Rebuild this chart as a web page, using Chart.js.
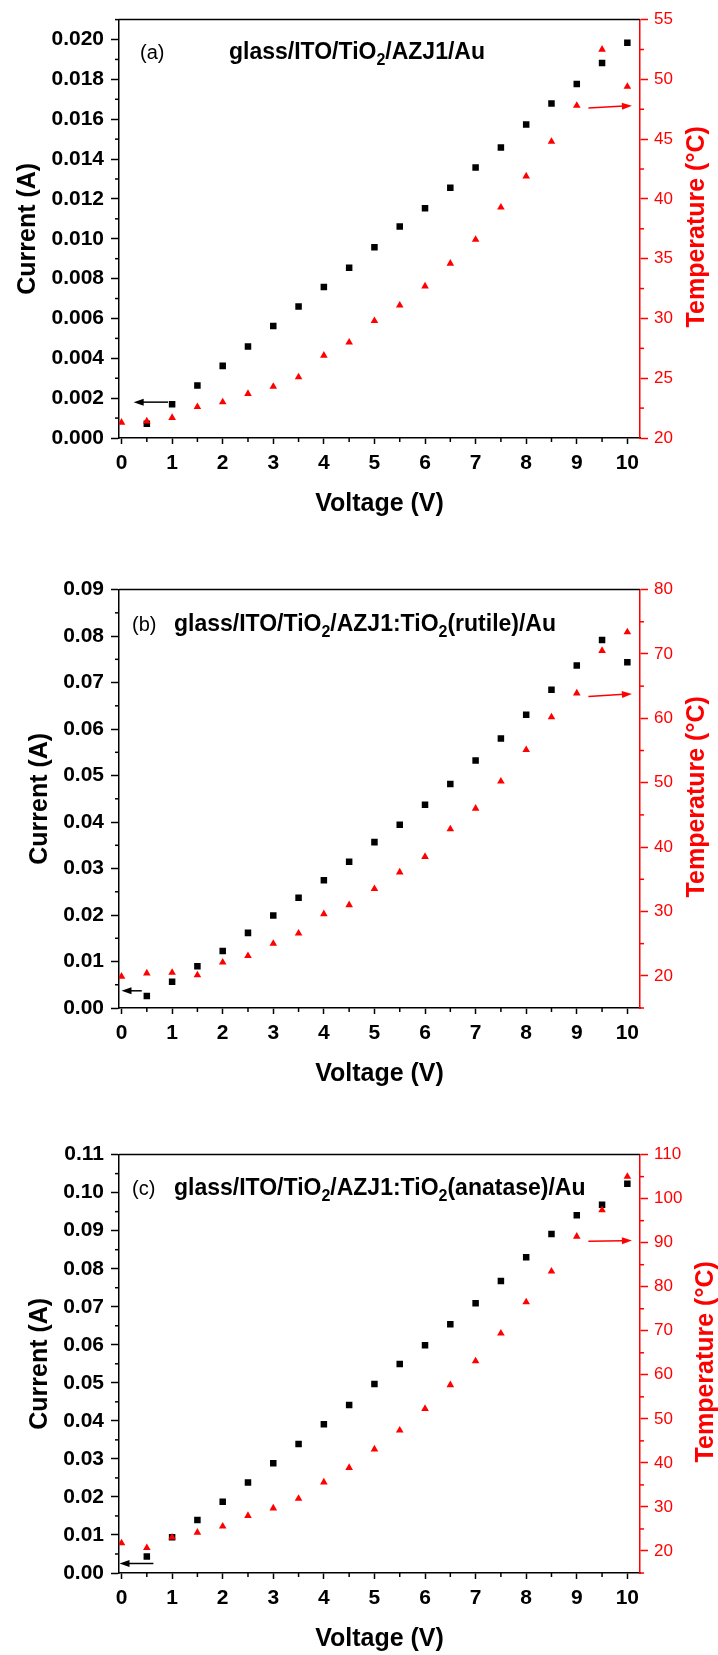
<!DOCTYPE html>
<html>
<head>
<meta charset="utf-8">
<script src="https://cdn.jsdelivr.net/npm/chart.js@4.4.1/dist/chart.umd.min.js"></script>
<style>
  html, body { margin: 0; padding: 0; background: #fff; }
  body { width: 718px; height: 1655px; position: relative; overflow: hidden; }
  canvas { position: absolute; left: 0; width: 718px; height: 555px; }
</style>
</head>
<body>
<canvas id="chartA" width="718" height="555" style="top:0px"></canvas>
<canvas id="chartB" width="718" height="555" style="top:570px"></canvas>
<canvas id="chartC" width="718" height="555" style="top:1135px"></canvas>
<script>
// Voltage steps (V)
const voltage = [0, 0.5, 1, 1.5, 2, 2.5, 3, 3.5, 4, 4.5, 5, 5.5, 6, 6.5, 7, 7.5, 8, 8.5, 9, 9.5, 10];
const voltageCurrent = [0.5, 1, 1.5, 2, 2.5, 3, 3.5, 4, 4.5, 5, 5.5, 6, 6.5, 7, 7.5, 8, 8.5, 9, 9.5, 10];

// (a) glass/ITO/TiO2/AZJ1/Au
const currentA = [0.00071, 0.00169, 0.00264, 0.00362, 0.00459, 0.00562, 0.00660, 0.00758, 0.00855, 0.00958,
  0.01062, 0.01153, 0.01256, 0.01358, 0.01458, 0.01574, 0.01679, 0.01777, 0.01882, 0.01984];
const tempA = [21.3, 21.4, 21.7, 22.6, 23.0, 23.7, 24.3, 25.1, 26.9, 28.0, 29.8, 31.1, 32.7, 34.6, 36.6,
  39.3, 41.9, 44.8, 47.8, 52.5, 49.4];

// (b) rutile
const currentB = [0.0026, 0.00567, 0.00896, 0.01225, 0.01616, 0.01991, 0.02374, 0.02749, 0.03147, 0.03568,
  0.03943, 0.04372, 0.04816, 0.05322, 0.05796, 0.06309, 0.06845, 0.07366, 0.07917, 0.07435];
const tempB = [19.9, 20.4, 20.5, 20.1, 22.1, 23.1, 25.0, 26.6, 29.6, 31.0, 33.5, 36.1, 38.5, 42.8, 46.0,
  50.2, 55.1, 60.2, 63.9, 70.5, 73.4];

// (c) anatase
const currentC = [0.00436, 0.00938, 0.01393, 0.01876, 0.02377, 0.02888, 0.03389, 0.03909, 0.0442, 0.04967,
  0.05497, 0.05989, 0.06537, 0.07094, 0.07679, 0.08301, 0.08914, 0.09406, 0.09684, 0.10232];
const tempC = [21.8, 20.7, 23.1, 24.2, 25.6, 28.0, 29.7, 31.9, 35.6, 38.9, 43.1, 47.4, 52.3, 57.7, 63.1,
  69.4, 76.5, 83.5, 91.4, 97.4, 105.0];

// tick labels
const xTicks = [0, 1, 2, 3, 4, 5, 6, 7, 8, 9, 10];
const currentTicksA = [0, 0.002, 0.004, 0.006, 0.008, 0.010, 0.012, 0.014, 0.016, 0.018, 0.020];
const currentTicksB = [0, 0.01, 0.02, 0.03, 0.04, 0.05, 0.06, 0.07, 0.08, 0.09];
const currentTicksC = [0, 0.01, 0.02, 0.03, 0.04, 0.05, 0.06, 0.07, 0.08, 0.09, 0.10, 0.11];
const tempTicksA = [20, 25, 30, 35, 40, 45, 50, 55];
const tempTicksB = [20, 30, 40, 50, 60, 70, 80];
const tempTicksC = [20, 30, 40, 50, 60, 70, 80, 90, 100, 110];

// axis limits
const currentRange = [[0, 0.021], [0, 0.09], [0, 0.11]];
const tempRange = [[20, 55], [15, 80], [15, 110]];
const currentDecimals = [3, 2, 2];

// panel headings
const panelLabels = ['(a)', '(b)', '(c)'];
const panelTitles = [
  [['glass/ITO/TiO', false], ['2', true], ['/AZJ1/Au', false]],
  [['glass/ITO/TiO', false], ['2', true], ['/AZJ1:TiO', false], ['2', true], ['(rutile)/Au', false]],
  [['glass/ITO/TiO', false], ['2', true], ['/AZJ1:TiO', false], ['2', true], ['(anatase)/Au', false]]
];

// arrows showing which axis each series belongs to: [x0, y0, x1, y1] in data units
const currentArrows = [[0.92, 0.0018, 0.24, 0.0018], [0.40, 0.0037, 0.0, 0.0037], [0.63, 0.0025, -0.04, 0.0025]];
const tempArrows = [[9.23, 47.6, 10.09, 47.8], [9.23, 63.4, 10.09, 63.8], [9.23, 90.3, 10.09, 90.5]];

const FONT = "'Liberation Sans', Arial, sans-serif";
const RED = '#ff0000';

function drawArrow(ctx, x0, y0, x1, y1, color) {
  const ang = Math.atan2(y1 - y0, x1 - x0);
  const head = 10, half = 3.5;
  const c = Math.cos(ang), s = Math.sin(ang);
  ctx.strokeStyle = color;
  ctx.fillStyle = color;
  ctx.lineWidth = 1.5;
  ctx.beginPath();
  ctx.moveTo(x0, y0);
  ctx.lineTo(x1 - c * head * 0.8, y1 - s * head * 0.8);
  ctx.stroke();
  ctx.beginPath();
  ctx.moveTo(x1, y1);
  ctx.lineTo(x1 - c * head + s * half, y1 - s * head - c * half);
  ctx.lineTo(x1 - c * head - s * half, y1 - s * head + c * half);
  ctx.closePath();
  ctx.fill();
}

// draws frame top, minor ticks, axis titles, panel heading and arrows
const decor = {
  id: 'decor',
  afterDraw(chart, args, opts) {
    const { ctx, chartArea: a, scales } = chart;
    const i = opts.panel;
    ctx.save();

    // top frame
    ctx.strokeStyle = '#000';
    ctx.lineWidth = 1.5;
    ctx.beginPath();
    ctx.moveTo(a.left, a.top);
    ctx.lineTo(a.right, a.top);
    ctx.stroke();

    // minor ticks
    const minor = (scale, ticks) => ticks.slice(0, -1).map((t, k) => (t + ticks[k + 1]) / 2);
    ctx.lineWidth = 1.5;
    ctx.strokeStyle = '#000';
    const xt = minor(scales.x, xTicks);
    xt.forEach(v => {
      const px = scales.x.getPixelForValue(v);
      ctx.beginPath(); ctx.moveTo(px, a.bottom); ctx.lineTo(px, a.bottom + 4); ctx.stroke();
    });
    const yt = scales.y.ticks.map(t => t.value);
    const yMinor = minor(scales.y, yt);
    if (yt[yt.length - 1] < scales.y.max) yMinor.push(yt[yt.length - 1] + (yt[1] - yt[0]) / 2);
    yMinor.forEach(v => {
      const py = scales.y.getPixelForValue(v);
      ctx.beginPath(); ctx.moveTo(a.left, py); ctx.lineTo(a.left - 4, py); ctx.stroke();
    });
    ctx.strokeStyle = RED;
    const tt = scales.y2.ticks.map(t => t.value);
    const tMinor = minor(scales.y2, tt);
    if (tt[0] > scales.y2.min) tMinor.push(tt[0] - (tt[1] - tt[0]) / 2);
    tMinor.forEach(v => {
      const py = scales.y2.getPixelForValue(v);
      ctx.beginPath(); ctx.moveTo(a.right, py); ctx.lineTo(a.right + 4, py); ctx.stroke();
    });

    // axis titles
    const midY = (a.top + a.bottom) / 2;
    ctx.font = 'bold 21px ' + FONT;
    const leftW = Math.max(...scales.y.ticks.map(t => ctx.measureText(t.label).width));
    ctx.font = '17px ' + FONT;
    const rightW = Math.max(...scales.y2.ticks.map(t => ctx.measureText(t.label).width));

    ctx.font = 'bold 25px ' + FONT;
    ctx.textAlign = 'center';
    ctx.textBaseline = 'middle';
    ctx.fillStyle = '#000';
    ctx.save();
    ctx.translate(a.left - 15 - leftW - 23, midY);
    ctx.rotate(-Math.PI / 2);
    ctx.fillText('Current (A)', 0, 0);
    ctx.restore();

    ctx.fillStyle = RED;
    ctx.save();
    ctx.translate(a.right + 14 + rightW + 24, midY - 2);
    ctx.rotate(-Math.PI / 2);
    ctx.fillText('Temperature (\u00b0C)', 0, 0);
    ctx.restore();

    ctx.fillStyle = '#000';
    ctx.fillText('Voltage (V)', (a.left + a.right) / 2, a.bottom + 66);

    // panel heading
    const labelX = [21, 13, 13][i];
    const titleX = [110, 55, 55][i];
    const base = a.top + [39, 41, 40][i];
    ctx.textAlign = 'left';
    ctx.textBaseline = 'alphabetic';
    ctx.font = '20px ' + FONT;
    ctx.fillText(panelLabels[i], a.left + labelX, base);
    let x = a.left + titleX;
    panelTitles[i].forEach(([txt, sub]) => {
      ctx.font = sub ? 'bold 16px ' + FONT : 'bold 23px ' + FONT;
      ctx.fillText(txt, x, sub ? base + 6 : base);
      x += ctx.measureText(txt).width;
    });

    // arrows
    const ca = currentArrows[i];
    drawArrow(ctx, scales.x.getPixelForValue(ca[0]), scales.y.getPixelForValue(ca[1]),
      scales.x.getPixelForValue(ca[2]), scales.y.getPixelForValue(ca[3]), '#000');
    const ta = tempArrows[i];
    drawArrow(ctx, scales.x.getPixelForValue(ta[0]), scales.y2.getPixelForValue(ta[1]),
      scales.x.getPixelForValue(ta[2]), scales.y2.getPixelForValue(ta[3]), RED);

    ctx.restore();
  }
};

function makeChart(id, panel, current, temp, currentTicks, tempTicks) {
  const dec = currentDecimals[panel];
  return new Chart(document.getElementById(id), {
    type: 'scatter',
    data: {
      datasets: [
        {
          label: 'Temperature',
          data: voltage.map((v, k) => ({ x: v, y: temp[k] })),
          yAxisID: 'y2',
          pointStyle: 'triangle',
          pointRadius: 4.4,
          backgroundColor: RED,
          borderColor: RED,
          borderWidth: 0,
          order: 0
        },
        {
          label: 'Current',
          data: voltageCurrent.map((v, k) => ({ x: v, y: current[k] })),
          yAxisID: 'y',
          pointStyle: 'rect',
          pointRadius: 4.6,
          backgroundColor: '#000',
          borderColor: '#000',
          borderWidth: 0,
          order: 1
        }
      ]
    },
    options: {
      responsive: false,
      animation: false,
      devicePixelRatio: 1,
      layout: { padding: { top: 18, left: 0, right: 0, bottom: 0 } },
      plugins: {
        legend: { display: false },
        tooltip: { enabled: false },
        decor: { panel: panel }
      },
      scales: {
        x: {
          type: 'linear',
          position: 'bottom',
          min: -0.05,
          max: 10.25,
          afterBuildTicks: s => { s.ticks = xTicks.map(v => ({ value: v })); },
          afterFit: s => { s.height = 117; },
          grid: { drawOnChartArea: false, tickLength: 6, tickColor: '#000', tickWidth: 1.5 },
          border: { color: '#000', width: 1.5 },
          ticks: {
            autoSkip: false, maxRotation: 0, padding: 7, color: '#000',
            font: { family: FONT, size: 21, weight: 'bold' },
            callback: v => String(v)
          }
        },
        y: {
          type: 'linear',
          position: 'left',
          min: currentRange[panel][0],
          max: currentRange[panel][1],
          afterBuildTicks: s => { s.ticks = currentTicks.map(v => ({ value: v })); },
          afterFit: s => { s.width = 119; },
          grid: { drawOnChartArea: false, tickLength: 8, tickColor: '#000', tickWidth: 1.5 },
          border: { color: '#000', width: 1.5 },
          ticks: {
            autoSkip: false, padding: 7, color: '#000',
            font: { family: FONT, size: 21, weight: 'bold' },
            callback: v => Number(v).toFixed(dec)
          }
        },
        y2: {
          type: 'linear',
          position: 'right',
          min: tempRange[panel][0],
          max: tempRange[panel][1],
          afterBuildTicks: s => { s.ticks = tempTicks.map(v => ({ value: v })); },
          afterFit: s => { s.width = 78; },
          grid: { drawOnChartArea: false, tickLength: 8, tickColor: RED, tickWidth: 1.5 },
          border: { color: RED, width: 1.5 },
          ticks: {
            autoSkip: false, padding: 6, color: RED,
            font: { family: FONT, size: 17 },
            callback: v => String(v)
          }
        }
      }
    },
    plugins: [decor]
  });
}

makeChart('chartA', 0, currentA, tempA, currentTicksA, tempTicksA);
makeChart('chartB', 1, currentB, tempB, currentTicksB, tempTicksB);
makeChart('chartC', 2, currentC, tempC, currentTicksC, tempTicksC);
</script>
</body>
</html>
